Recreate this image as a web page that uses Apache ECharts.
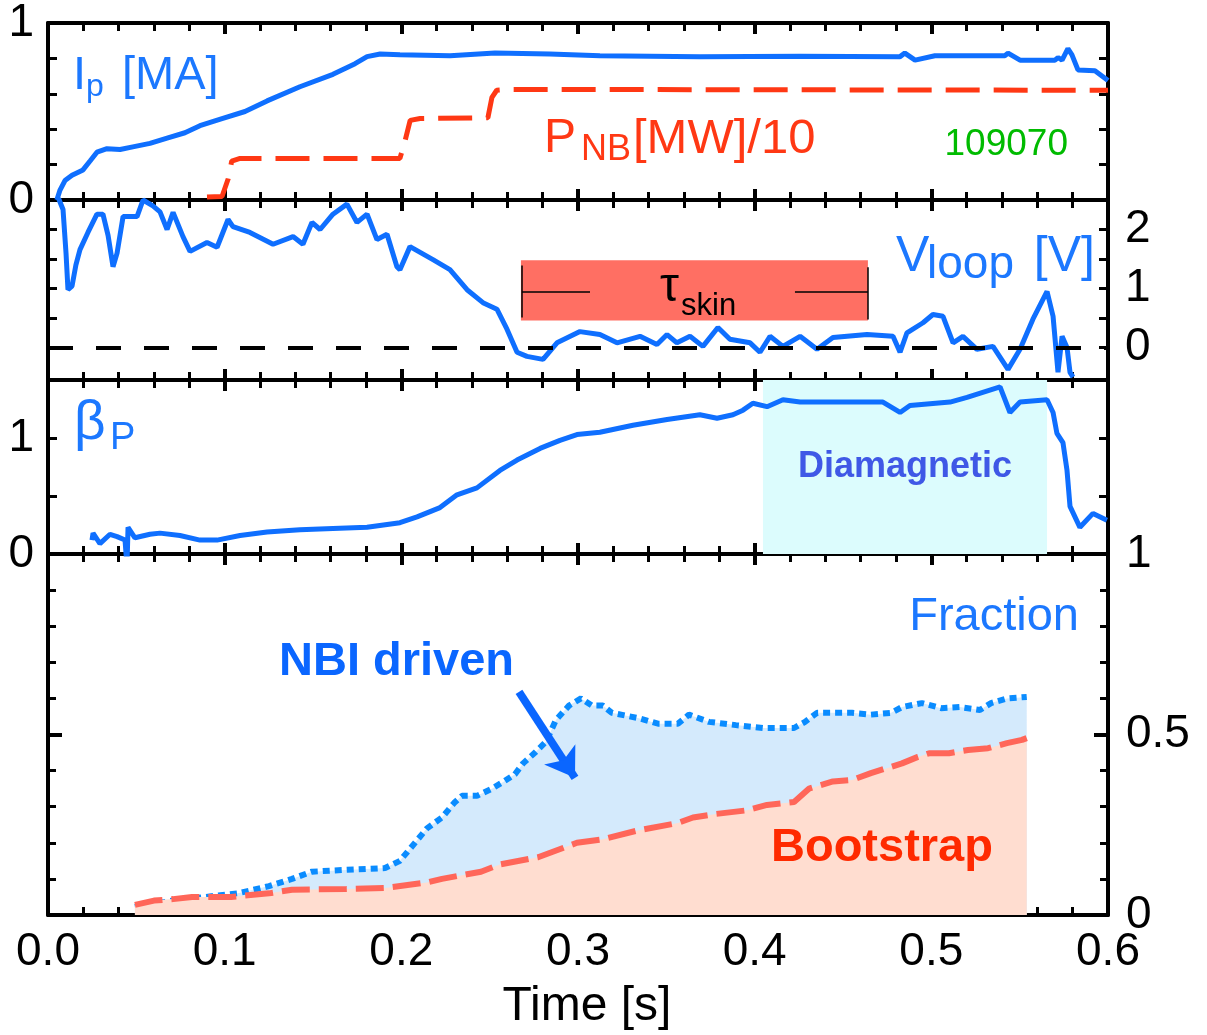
<!DOCTYPE html>
<html>
<head>
<meta charset="utf-8">
<title>Shot 109070</title>
<script src="https://cdn.jsdelivr.net/npm/echarts@6.0.0/dist/echarts.min.js"></script>
<style>
  html, body { margin: 0; padding: 0; background: #fff; }
  #main { width: 1207px; height: 1035px; }
</style>
</head>
<body>
<div id="main"></div>
<script>
// [time s, Ip MA]
const ipData = [
  [0.005, 0.00], [0.0068, 0.056], [0.0096, 0.11], [0.0136, 0.14], [0.0198, 0.17], [0.0238, 0.22],
  [0.0277, 0.27], [0.0334, 0.29], [0.0408, 0.285], [0.048, 0.30], [0.0577, 0.32], [0.0674, 0.35],
  [0.0775, 0.38], [0.086, 0.42], [0.0985, 0.46], [0.1115, 0.50], [0.124, 0.56], [0.1426, 0.64],
  [0.1613, 0.71], [0.1738, 0.77], [0.1806, 0.81], [0.188, 0.825], [0.1992, 0.82], [0.2276, 0.815],
  [0.253, 0.83], [0.284, 0.825], [0.3124, 0.815], [0.369, 0.81], [0.4257, 0.812], [0.4823, 0.81],
  [0.485, 0.83], [0.4908, 0.79], [0.502, 0.815], [0.5417, 0.815], [0.5434, 0.83], [0.5502, 0.79],
  [0.57, 0.79], [0.5717, 0.805], [0.574, 0.79], [0.5773, 0.855], [0.5796, 0.82], [0.583, 0.735],
  [0.5926, 0.73], [0.6, 0.675]
];

// [time s, PNB MW / 10]
const pnbData = [
  [0.09, 0.017], [0.0985, 0.02], [0.102, 0.12], [0.104, 0.22], [0.1087, 0.235], [0.1992, 0.235],
  [0.202, 0.33], [0.205, 0.45], [0.2106, 0.46], [0.249, 0.465], [0.2513, 0.58], [0.254, 0.62],
  [0.2615, 0.625], [0.6, 0.62]
];

// [time s, Vloop V]
const vloopData = [
  [0.005, 2.6], [0.0085, 2.34], [0.0102, 1.6], [0.0113, 0.98], [0.0136, 1.04], [0.0158, 1.4],
  [0.0181, 1.66], [0.0226, 1.95], [0.0277, 2.26], [0.0311, 2.26], [0.034, 1.9], [0.0368, 1.37],
  [0.0391, 1.6], [0.0425, 2.22], [0.0504, 2.22], [0.0538, 2.5], [0.0594, 2.4], [0.0634, 2.3],
  [0.0674, 2.0], [0.0708, 2.29], [0.0764, 1.88], [0.0804, 1.63], [0.09, 1.78], [0.0957, 1.7],
  [0.1019, 2.17], [0.1047, 2.05], [0.1143, 1.95], [0.1274, 1.75], [0.1387, 1.88], [0.1443, 1.75],
  [0.1494, 2.12], [0.154, 2.0], [0.1613, 2.26], [0.1692, 2.43], [0.1749, 2.12], [0.1806, 2.26],
  [0.1862, 1.83], [0.1919, 1.92], [0.1975, 1.37], [0.1992, 1.32], [0.2049, 1.71], [0.2179, 1.49],
  [0.2275, 1.32], [0.2372, 0.98], [0.2462, 0.76], [0.2541, 0.65], [0.2598, 0.31], [0.2655, -0.08],
  [0.2711, -0.15], [0.2802, -0.2], [0.2881, 0.08], [0.3011, 0.27], [0.3124, 0.22], [0.3221, 0.08],
  [0.3351, 0.19], [0.3447, 0.05], [0.3504, 0.22], [0.356, 0.08], [0.3634, 0.19], [0.3707, 0.02],
  [0.3792, 0.34], [0.386, 0.14], [0.3974, 0.08], [0.403, -0.08], [0.4087, 0.19], [0.416, 0.02],
  [0.4257, 0.19], [0.4353, -0.03], [0.4443, 0.17], [0.4636, 0.22], [0.4783, 0.19], [0.4823, -0.08],
  [0.4862, 0.25], [0.4953, 0.42], [0.5009, 0.56], [0.5066, 0.53], [0.5123, 0.08], [0.5179, 0.19],
  [0.5258, -0.03], [0.5349, 0.02], [0.5434, -0.37], [0.5502, -0.03], [0.5575, 0.48], [0.5655, 0.95],
  [0.5689, 0.53], [0.5717, -0.42], [0.574, 0.19], [0.5768, 0.0], [0.5785, -0.42], [0.5802, -0.5]
];

// [time s, beta_p]
const betaData = [
  [0.0249, 0.12], [0.0255, 0.18], [0.0294, 0.09], [0.0351, 0.17], [0.0391, 0.15], [0.0436, 0.12],
  [0.0447, -0.11], [0.0453, 0.23], [0.0492, 0.14], [0.0577, 0.17], [0.0634, 0.18], [0.0747, 0.16],
  [0.086, 0.12], [0.0957, 0.12], [0.1087, 0.16], [0.124, 0.19], [0.1426, 0.21], [0.1613, 0.22],
  [0.1806, 0.23], [0.1992, 0.27], [0.2089, 0.32], [0.2219, 0.40], [0.2315, 0.51], [0.2428, 0.57],
  [0.2558, 0.72], [0.2655, 0.81], [0.2785, 0.91], [0.2898, 0.98], [0.2994, 1.03], [0.3124, 1.05],
  [0.3311, 1.11], [0.3504, 1.16], [0.369, 1.2], [0.3787, 1.17], [0.3877, 1.2], [0.3934, 1.24],
  [0.399, 1.3], [0.407, 1.27], [0.416, 1.33], [0.4257, 1.31], [0.4443, 1.31], [0.4726, 1.31],
  [0.4823, 1.22], [0.4879, 1.28], [0.5106, 1.31], [0.5202, 1.35], [0.5389, 1.44], [0.5445, 1.22],
  [0.5502, 1.31], [0.5655, 1.33], [0.5689, 1.22], [0.5711, 1.04], [0.5745, 0.96], [0.5768, 0.72],
  [0.5785, 0.41], [0.5841, 0.23], [0.5915, 0.35], [0.5994, 0.29]
];

// [time s, NBI driven fraction]
const nbiData = [
  [0.0492, 0.022], [0.0708, 0.04], [0.1075, 0.06], [0.1251, 0.08], [0.1381, 0.10], [0.1494, 0.12],
  [0.1687, 0.125], [0.1908, 0.13], [0.1992, 0.15], [0.2077, 0.2], [0.2145, 0.24], [0.223, 0.27],
  [0.2298, 0.31], [0.2343, 0.33], [0.2428, 0.33], [0.2513, 0.35], [0.2581, 0.37], [0.2643, 0.39],
  [0.2689, 0.42], [0.2757, 0.45], [0.2819, 0.48], [0.2875, 0.54], [0.2949, 0.58], [0.3017, 0.60],
  [0.3079, 0.58], [0.3141, 0.58], [0.3192, 0.56], [0.3345, 0.545], [0.3453, 0.53], [0.3566, 0.53],
  [0.3628, 0.555], [0.3741, 0.535], [0.3894, 0.526], [0.4047, 0.518], [0.4223, 0.518], [0.4285, 0.535],
  [0.4353, 0.56], [0.4551, 0.56], [0.4658, 0.555], [0.4772, 0.56], [0.4834, 0.576], [0.4947, 0.587],
  [0.5055, 0.573], [0.5162, 0.576], [0.5275, 0.568], [0.5338, 0.587], [0.5428, 0.60], [0.554, 0.604]
];

// [time s, bootstrap fraction]
const bootstrapData = [
  [0.0492, 0.028], [0.06, 0.04], [0.0708, 0.044], [0.0815, 0.05], [0.1036, 0.05], [0.1251, 0.06],
  [0.1381, 0.07], [0.1687, 0.072], [0.1908, 0.075], [0.2145, 0.09], [0.223, 0.10], [0.2451, 0.12],
  [0.2558, 0.14], [0.2774, 0.16], [0.2994, 0.20], [0.3141, 0.21], [0.3345, 0.235], [0.3566, 0.255],
  [0.3651, 0.27], [0.3781, 0.28], [0.3957, 0.29], [0.407, 0.305], [0.4223, 0.313], [0.4307, 0.35],
  [0.4443, 0.37], [0.4551, 0.374], [0.4658, 0.393], [0.4834, 0.42], [0.4924, 0.438], [0.4987, 0.448],
  [0.51, 0.448], [0.5207, 0.457], [0.5321, 0.462], [0.5428, 0.476], [0.5513, 0.485], [0.554, 0.49]
];

const diamagneticSpan = [0.4047, 0.5655];
const skinBox = [[0.2677, 1.48], [0.4641, 0.46]];
const nbiArrow = [[0.2666, 0.618], [0.2983, 0.38]];

const FONT = '"Liberation Sans", Arial, sans-serif';
const BLUE = '#0f6fff';
const BLUE_TXT = '#1c78ff';
const RED = '#ff3814';

const GRIDS = [
  { top: 22, height: 178 },
  { top: 200, height: 180 },
  { top: 380, height: 174 },
  { top: 554, height: 361 }
];

function xAxes(grid, withLabels) {
  const base = {
    type: 'value', gridIndex: grid, min: 0, max: 0.6, interval: 0.1,
    axisLine: { show: true, onZero: false, lineStyle: { color: '#000', width: 4 } },
    axisTick: { show: true, inside: true, length: 11, lineStyle: { color: '#000', width: 4 } },
    minorTick: { show: true, splitNumber: 5, length: 8, lineStyle: { color: '#000', width: 3 } },
    splitLine: { show: false },
    axisLabel: { show: false }
  };
  const bottom = Object.assign({}, base, { position: 'bottom' });
  if (withLabels) {
    bottom.axisLabel = {
      show: true, margin: 14, fontSize: 46, color: '#000', fontFamily: FONT,
      formatter: v => v.toFixed(1)
    };
    bottom.name = 'Time [s]';
    bottom.nameLocation = 'middle';
    bottom.nameGap = 68;
    bottom.nameTextStyle = { fontSize: 48, color: '#000', fontFamily: FONT, padding: [0, 0, 0, 18] };
  }
  return [bottom, Object.assign({}, base, { position: 'top' })];
}

function yAxis(grid, pos, min, max, ticks, labels) {
  return {
    type: 'value', gridIndex: grid, position: pos, min: min, max: max,
    axisLine: { show: true, onZero: false, lineStyle: { color: '#000', width: 4 } },
    axisTick: { show: true, inside: true, length: 9, customValues: ticks, lineStyle: { color: '#000', width: 3 } },
    splitLine: { show: false },
    axisLabel: labels
      ? { show: true, customValues: labels, margin: pos === 'right' ? 17 : 14, fontSize: 46, color: '#000', fontFamily: FONT }
      : { show: false }
  };
}

function fractionAxis(pos, withLabels) {
  return {
    type: 'value', gridIndex: 3, position: pos, min: 0, max: 1, interval: 0.5,
    axisLine: { show: true, onZero: false, lineStyle: { color: '#000', width: 4 } },
    axisTick: { show: true, inside: true, length: 14, lineStyle: { color: '#000', width: 4 } },
    minorTick: { show: true, splitNumber: 5, length: 8, lineStyle: { color: '#000', width: 3 } },
    splitLine: { show: false },
    axisLabel: withLabels
      ? { show: true, margin: 18, fontSize: 46, color: '#000', fontFamily: FONT }
      : { show: false }
  };
}

function txt(text, x, y, size, color, align, weight) {
  return {
    type: 'text', x: x, y: y, silent: true, z: 100,
    style: {
      text: text, fill: color, fontSize: size, fontFamily: FONT,
      fontWeight: weight || 'normal', align: align || 'left', verticalAlign: 'middle'
    }
  };
}

const thin = { color: '#000', width: 1.5, type: 'solid' };

const option = {
  animation: false,
  backgroundColor: '#fff',
  grid: GRIDS.map(g => ({ left: 48, right: 99, top: g.top, height: g.height })),
  xAxis: [].concat(xAxes(0), xAxes(1), xAxes(2), xAxes(3, true)),
  yAxis: [
    yAxis(0, 'left', 0, 1, [0.2, 0.4, 0.6, 0.8], [0, 1]),
    yAxis(0, 'right', 0, 1, [0.2, 0.4, 0.6, 0.8]),
    yAxis(1, 'left', -0.55, 2.5, [0, 0.5, 1, 1.5, 2]),
    yAxis(1, 'right', -0.55, 2.5, [0, 0.5, 1, 1.5, 2], [0, 1, 2]),
    yAxis(2, 'left', 0, 1.5, [0.5, 1], [0, 1]),
    yAxis(2, 'right', 0, 1.5, [0.5, 1]),
    fractionAxis('left', false),
    fractionAxis('right', true)
  ],
  series: [
    {
      name: 'Ip', type: 'line', xAxisIndex: 0, yAxisIndex: 0, data: ipData,
      symbol: 'none', lineStyle: { color: BLUE, width: 5 }, z: 4
    },
    {
      name: 'PNB', type: 'line', xAxisIndex: 0, yAxisIndex: 0, data: pnbData,
      symbol: 'none', lineStyle: { color: RED, width: 5, type: [34, 14] }, z: 3
    },
    {
      name: 'Vloop', type: 'line', xAxisIndex: 2, yAxisIndex: 2, data: vloopData,
      symbol: 'none', lineStyle: { color: BLUE, width: 5 }, z: 4,
      markArea: {
        silent: true,
        itemStyle: { color: '#ff6f63', opacity: 1 },
        data: [[{ xAxis: skinBox[0][0], yAxis: skinBox[0][1] }, { xAxis: skinBox[1][0], yAxis: skinBox[1][1] }]]
      },
      markLine: {
        silent: true, symbol: 'none', label: { show: false },
        data: [
          { yAxis: 0, lineStyle: { color: '#000', width: 4, type: [25, 23] } },
          [{ coord: [0.2683, 1.39], lineStyle: thin }, { coord: [0.2683, 0.51] }],
          [{ coord: [0.2683, 0.95], lineStyle: thin }, { coord: [0.3068, 0.95] }],
          [{ coord: [0.4228, 0.95], lineStyle: thin }, { coord: [0.4641, 0.95] }],
          [{ coord: [0.4641, 1.36], lineStyle: thin }, { coord: [0.4641, 0.475] }]
        ]
      }
    },
    {
      name: 'betaP', type: 'line', xAxisIndex: 4, yAxisIndex: 4, data: betaData,
      symbol: 'none', lineStyle: { color: BLUE, width: 5 }, z: 4,
      markArea: {
        silent: true,
        itemStyle: { color: '#dcfcfd', opacity: 1 },
        label: {
          show: true, position: 'inside', fontSize: 36, fontWeight: 'bold',
          color: '#3f58e6', fontFamily: FONT
        },
        data: [[{ name: 'Diamagnetic', xAxis: diamagneticSpan[0] }, { xAxis: diamagneticSpan[1] }]]
      }
    },
    {
      name: 'NBI driven', type: 'line', xAxisIndex: 6, yAxisIndex: 6, data: nbiData,
      symbol: 'none', z: 2,
      areaStyle: { color: '#d4eafc', opacity: 1 },
      lineStyle: { color: '#0a8cff', width: 6, type: [7, 5] },
      markLine: {
        silent: true, symbol: ['none', 'arrow'], symbolSize: 28, label: { show: false },
        lineStyle: { color: '#0a66ff', width: 8, type: 'solid' },
        data: [[{ coord: nbiArrow[0] }, { coord: nbiArrow[1] }]]
      }
    },
    {
      name: 'Bootstrap', type: 'line', xAxisIndex: 6, yAxisIndex: 6, data: bootstrapData,
      symbol: 'none', z: 3,
      areaStyle: { color: '#ffddd0', opacity: 1 },
      lineStyle: { color: '#ff6659', width: 6, type: [28, 9] }
    }
  ],
  graphic: [
    txt('I', 73, 76, 47, BLUE_TXT),
    txt('p', 86, 87, 32, BLUE_TXT),
    txt('[MA]', 122, 76, 47, BLUE_TXT),
    txt('P', 544, 139, 48, RED),
    txt('NB', 581, 150, 36, RED),
    txt('[MW]/10', 633, 139, 49, RED),
    txt('109070', 1068, 145, 37, '#00bb00', 'right'),
    txt('V', 896, 257, 50, BLUE_TXT),
    txt('loop', 927, 265, 46, BLUE_TXT),
    txt('[V]', 1095, 257, 50, BLUE_TXT, 'right'),
    txt('β', 74, 424, 55, BLUE_TXT),
    txt('P', 110, 439, 38, BLUE_TXT),
    txt('Fraction', 1079, 617, 47, BLUE_TXT, 'right'),
    txt('NBI driven', 279, 662, 47, '#0a66ff', 'left', 'bold'),
    txt('Bootstrap', 771, 848, 47, '#ff2a00', 'left', 'bold'),
    txt('τ', 660, 288, 48, '#000'),
    txt('skin', 681, 306, 31, '#000')
  ]
};

const chart = echarts.init(document.getElementById('main'));
chart.setOption(option);
</script>
</body>
</html>
